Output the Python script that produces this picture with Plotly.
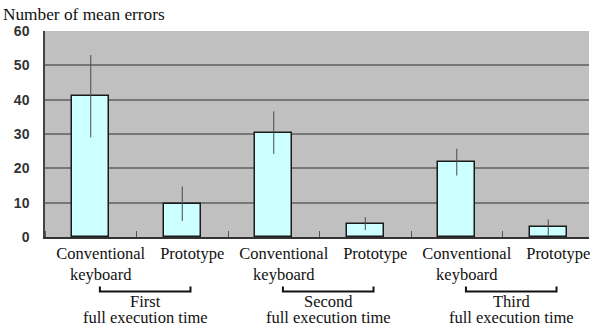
import plotly.graph_objects as go

categories = ["Conventional<br>keyboard", "Prototype"] * 3
groups = ["First", "Second", "Third"]
group_sub = "full execution time"
means = [41.0, 9.7, 30.4, 3.9, 21.8, 2.8]
errors = [12.0, 5.0, 6.2, 1.9, 3.9, 2.3]
y_ticks = [0, 10, 20, 30, 40, 50, 60]
y_title = "Number of mean errors"

W, H = 590, 327
ML, MR, MT, MB = 45, 1, 31, 90
ph = H - MT - MB

def py(px):
    return (H - MB - px) / ph

xs = list(range(len(categories)))

fig = go.Figure()
fig.add_trace(go.Bar(
    x=xs, y=means, width=0.4,
    marker=dict(color="#ccffff", line=dict(color="#1a1a1a", width=1.5)),
    error_y=dict(type="data", array=errors, visible=True, color="#4a4a4a",
                 thickness=1, width=0),
    showlegend=False,
    hoverinfo="skip",
))

serif = "Liberation Serif"
sans = "Liberation Sans"
txt = "#111111"

shapes = []
annotations = []
for g, name in enumerate(groups):
    x0 = 2 * g + 0.1
    x1 = 2 * g + 1 + 0.09
    ya, yb = py(291.5), py(286.5)
    shapes.append(dict(type="path", xref="x", yref="paper",
                       path=f"M {x0},{yb} L {x0},{ya} L {x1},{ya} L {x1},{yb}",
                       line=dict(color=txt, width=2)))
    xm = (x0 + x1) / 2
    annotations.append(dict(x=xm, y=py(301), xref="x", yref="paper", text=name,
                            showarrow=False, font=dict(family=serif, size=16.5, color=txt),
                            xanchor="center", yanchor="middle"))
    annotations.append(dict(x=xm, y=py(317.5), xref="x", yref="paper", text=group_sub,
                            showarrow=False, font=dict(family=serif, size=16.5, color=txt),
                            xanchor="center", yanchor="middle"))

annotations.append(dict(x=0, y=1, xref="paper", yref="paper", text=y_title,
                        showarrow=False, font=dict(family=serif, size=17.3, color=txt),
                        xanchor="left", yanchor="middle", xshift=-ML + 1, yshift=MT - 14))

fig.update_layout(
    width=W, height=H,
    margin=dict(l=ML, r=MR, t=MT, b=MB, pad=0),
    paper_bgcolor="white",
    plot_bgcolor="#c0c0c0",
    shapes=shapes,
    annotations=annotations,
    bargap=0,
    font=dict(family=serif),
)
fig.update_xaxes(
    range=[-0.5, 5.445],
    tickvals=xs, ticktext=categories,
    ticks="", showgrid=False,
    showline=True, linecolor="#333333", linewidth=1.5,
    tickfont=dict(family=serif, size=16.5, color=txt),
    ticklabelshift=10,
    ticklabeloverflow="allow",
    minor=dict(tick0=0.5, dtick=1, ticks="inside", ticklen=6, tickcolor="#555555",
               tickwidth=1, showgrid=False),
    zeroline=False,
)
fig.update_yaxes(
    range=[0, 60], tickvals=y_ticks,
    showgrid=True, gridcolor="#777777", gridwidth=1.5,
    showline=True, linecolor="#444444", linewidth=1.5,
    ticks="outside", ticklen=11, tickcolor="rgba(0,0,0,0)",
    tickfont=dict(family=sans, size=14, color="#333333", weight="bold"),
    zeroline=False,
)

fig.write_html("out.html", config={"displayModeBar": False},
               post_script="document.body.style.margin='0';")
